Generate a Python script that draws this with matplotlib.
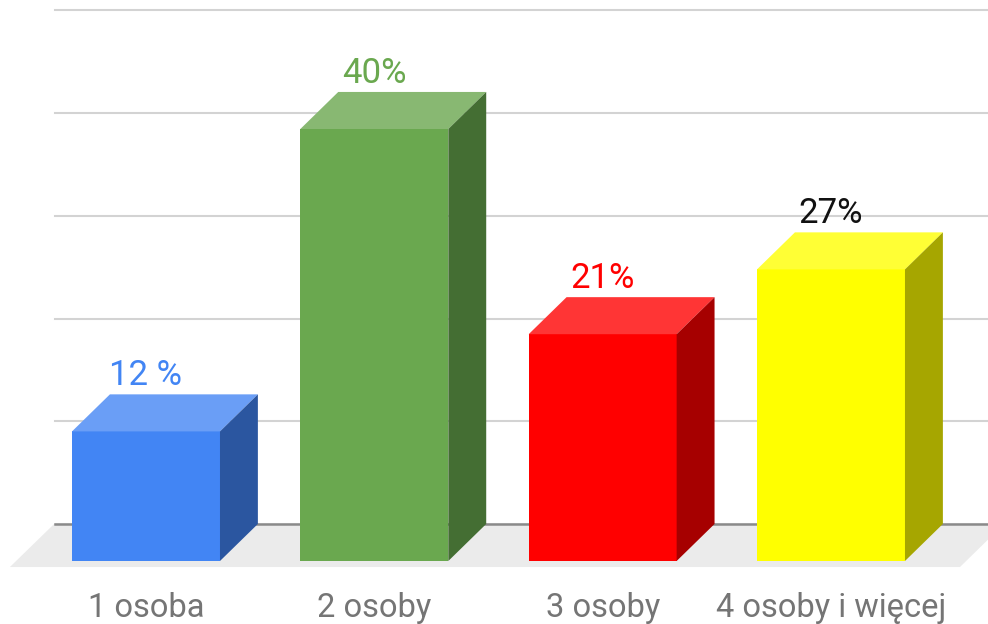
import matplotlib
matplotlib.use("Agg")
import matplotlib.pyplot as plt
from matplotlib.patches import Polygon

plt.rcParams['font.family'] = ['Roboto', 'DejaVu Sans']

# data
categories = ['1 osoba', '2 osoby', '3 osoby', '4 osoby i więcej']
values = [12, 40, 21, 27]
value_labels = ['12 %', '40%', '21%', '27%']
front_colors = ['#4285f4', '#6aa84f', '#ff0000', '#ffff00']
top_colors = ['#6a9ef6', '#88b872', '#ff3535', '#ffff35']
side_colors = ['#2b56a0', '#446e33', '#a60000', '#a6a600']
label_colors = ['#4285f4', '#6aa84f', '#ff0000', '#111111']

# geometry (x in category units, y in percent)
half_w = 0.324
dx, dy = 0.166, 3.43
grid_step = 9.51
n_grid = 5

fig = plt.figure(figsize=(9.88, 6.24), dpi=100)
ax = fig.add_axes([0, 0, 1, 1])
ax.set_xlim(-0.6394, 3.6876)
ax.set_ylim(-5.833, 51.944)
ax.axis('off')

# floor
floor = Polygon([(-0.596, -0.556), (3.565, -0.556), (3.762, 3.52), (-0.398, 3.52)],
                closed=True, facecolor='#ebebeb', edgecolor='none', zorder=1)
ax.add_patch(floor)

# gridlines on the back plane
x_right = ax.get_xlim()[1]
for k in range(1, n_grid + 1):
    ax.plot([-0.3985, x_right], [dy + k * grid_step] * 2, color='#d3d3d3', lw=1.5, zorder=2)
ax.plot([-0.3985, x_right], [dy, dy], color='#8a8a8a', lw=1.8, zorder=2)

# 3D bars
for i, v in enumerate(values):
    x0, x1 = i - half_w, i + half_w
    front = Polygon([(x0, 0), (x1, 0), (x1, v), (x0, v)], facecolor=front_colors[i],
                    edgecolor='none', zorder=4)
    top = Polygon([(x0, v), (x1, v), (x1 + dx, v + dy), (x0 + dx, v + dy)],
                  facecolor=top_colors[i], edgecolor='none', zorder=4)
    side = Polygon([(x1, 0), (x1 + dx, dy), (x1 + dx, v + dy), (x1, v)],
                   facecolor=side_colors[i], edgecolor='none', zorder=4)
    for p in (front, top, side):
        ax.add_patch(p)
    ax.text(i, v + dy + 0.83, value_labels[i], ha='center', va='baseline',
            fontsize=25, color=label_colors[i], zorder=5)
    ax.text(i, -5.19, categories[i], ha='center', va='baseline',
            fontsize=23.5, color='#757575', zorder=5)

fig.savefig('out.png', dpi=100)
